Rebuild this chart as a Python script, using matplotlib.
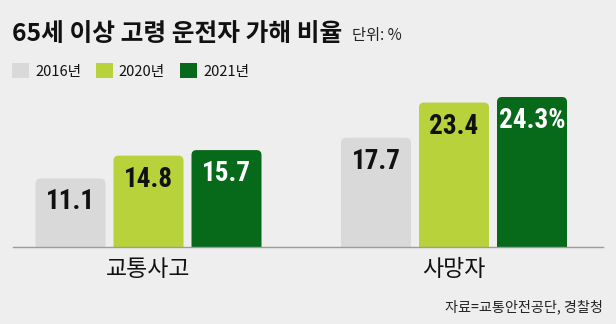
import matplotlib

matplotlib.use("Agg")
import matplotlib.pyplot as plt
from matplotlib import font_manager
from matplotlib.patches import FancyBboxPatch, Patch
import numpy as np

plt.rcParams["font.family"] = ["Noto Sans CJK KR", "DejaVu Sans"]

# data
categories = ["교통사고", "사망자"]
years = ["2016년", "2020년", "2021년"]
values = {
    "2016년": [11.1, 17.7],
    "2020년": [14.8, 23.4],
    "2021년": [15.7, 24.3],
}
labels = {
    "2016년": ["11.1", "17.7"],
    "2020년": ["14.8", "23.4"],
    "2021년": ["15.7", "24.3%"],
}

BG = "#eeeeee"
COLORS = {"2016년": "#d9d9d9", "2020년": "#b7d23a", "2021년": "#07691a"}
TEXT_COLORS = {"2016년": "#111111", "2020년": "#111111", "2021년": "white"}


def pick_font(prefs):
    installed = {f.name for f in font_manager.fontManager.ttflist}
    for name in prefs:
        if name in installed:
            return name
    return "DejaVu Sans"


# narrow face for the bar numbers
NUM_FONT = pick_font(["Roboto Condensed", "Barlow Condensed", "Archivo Narrow",
                      "Fira Sans Condensed", "IBM Plex Sans Condensed",
                      "Liberation Sans Narrow", "Roboto"])

W, H = 616, 324
fig = plt.figure(figsize=(W / 100, H / 100), dpi=100, facecolor=BG)

# axes in pixel terms: baseline at y=247, spans x 13..603
ax_l, ax_r, ax_b, ax_t = 13, 603, 247, 90
ax = fig.add_axes([ax_l / W, (H - ax_b) / H, (ax_r - ax_l) / W, (ax_b - ax_t) / H])
ax.set_facecolor(BG)

px_per_x = 305.5          # pixels per category step
px_per_y = 150 / 24.3     # pixels per percentage point
ax.set_xlim((ax_l - 148.5) / px_per_x, (ax_r - 148.5) / px_per_x)
ax.set_ylim(0, (ax_b - ax_t) / px_per_y)

x = np.arange(len(categories))
bar_w = 70 / px_per_x
step = 78 / px_per_x
radius = 5 / px_per_x
aspect = px_per_x / px_per_y

for i, yr in enumerate(years):
    offs = (i - 1) * step
    bars = ax.bar(x + offs, values[yr], width=bar_w, color="none")
    for bar, txt in zip(bars, labels[yr]):
        bx, h = bar.get_x(), bar.get_height()
        # rounded top corners; bottom sits below the axis and gets clipped
        patch = FancyBboxPatch((bx, -2), bar_w, h + 2,
                               boxstyle=f"round,pad=0,rounding_size={radius}",
                               mutation_aspect=aspect,
                               facecolor=COLORS[yr], edgecolor="none", zorder=2)
        ax.add_patch(patch)
        ax.annotate(txt, xy=(bx + bar_w / 2, h), xytext=(0, -10),
                    textcoords="offset pixels", ha="center", va="top",
                    fontsize=19.5, fontweight="bold", family=NUM_FONT,
                    color=TEXT_COLORS[yr], zorder=3)

for s in ["top", "left", "right"]:
    ax.spines[s].set_visible(False)
ax.spines["bottom"].set_color("#9c9c9c")
ax.spines["bottom"].set_linewidth(1.0)
ax.spines["bottom"].set_zorder(4)
ax.set_yticks([])
ax.set_xticks(x)
ax.set_xticklabels(categories, fontsize=16.5, color="#111111")
ax.tick_params(axis="x", length=0, pad=8)

# title and unit
fig.text(12 / W, 1 - 41 / H, "65세 이상 고령 운전자 가해 비율", fontsize=17.8,
         fontweight="black", color="#111111", ha="left", va="baseline")
fig.text(352 / W, 1 - 40 / H, "단위: %", fontsize=11, color="#222222",
         ha="left", va="baseline")

# legend
handles = [Patch(facecolor=COLORS[yr], edgecolor="none", label=yr) for yr in years]
fig.legend(handles=handles, loc="upper left", bbox_to_anchor=(8 / W, 1 - 59 / H),
           ncol=3, frameon=False, fontsize=10.5, handlelength=1.15,
           handleheight=1.2, handletextpad=0.4, columnspacing=1.05,
           borderaxespad=0, borderpad=0.3, labelcolor="#111111")

fig.text(603 / W, 1 - 307 / H, "자료=교통안전공단, 경찰청", fontsize=10.2,
         color="#222222", ha="right", va="center")

fig.savefig("out.png", dpi=100, facecolor=BG)
